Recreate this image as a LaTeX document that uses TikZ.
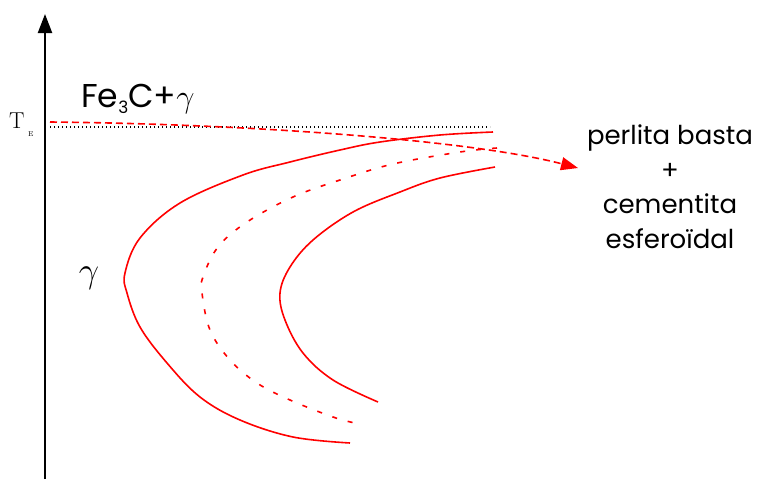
\documentclass[tikz,border=0pt]{standalone}
\usepackage{fontspec}
\setmainfont{Poppins}
\newfontfamily\lmr{Latin Modern Roman}
\usetikzlibrary{arrows.meta}
\begin{document}
\begin{tikzpicture}[x=1pt,y=-1pt,
  curve/.style={red,line width=1.6pt,line join=round},
  dashcurve/.style={red,line width=1.6pt,dash pattern=on 5pt off 11pt},
  lbl/.style={inner sep=0pt,align=center}]
\useasboundingbox (0,0) rectangle (758,480);
% axis
\coordinate (ax0) at (45,479);
\coordinate (ax1) at (45,14);
\draw[line width=2.2pt,-{Triangle[length=19pt,width=14pt]}] (ax0) -- (ax1);
% T_E
\node[inner sep=0pt,anchor=base west] (te) at (9,128) {\lmr\fontsize{23}{23}\selectfont T};
\node[inner sep=0pt,anchor=base west] (tesub) at (28,136) {\lmr\fontsize{7}{7}\selectfont E};
% dotted line
\coordinate (d0) at (50,127);
\coordinate (d1) at (490,127);
\draw[line width=1.4pt,dash pattern=on 1.4pt off 2.6pt] (d0) -- (d1);
% labels
\node[lbl,anchor=base west] (fe) at (81,107) {\fontsize{33}{33}\selectfont Fe\raisebox{-6pt}{\fontsize{17}{17}\selectfont 3}C+\scalebox{1.3}{\fontsize{24.88}{25}\selectfont$\gamma$}};
\node[lbl] (g) at (89,278) {\scalebox{1.45}{\fontsize{24.88}{25}\selectfont$\gamma$}};
\node[lbl,anchor=north,font=\fontsize{26}{34.5}\selectfont] (res) at (670,125) {perlita basta\\+\\cementita\\esferoïdal};
% curves
\draw[curve] plot[smooth,tension=0.6] coordinates {(493,132) (440,135) (380,142) (340,150) (290,162) (243,175) (180,203) (140,238) (125,273) (127,293) (140,327) (167,363) (200,397) (240,420) (293,437) (350,443)};
\draw[dashcurve] plot[smooth,tension=0.6] coordinates {(497,148) (460,152) (393,164) (340,180) (293,197) (247,222) (218,247) (203,277) (202,293) (210,330) (230,360) (257,383) (290,400) (333,417) (355,423)};
\draw[curve] plot[smooth,tension=0.6] coordinates {(495,167) (440,178) (400,192) (353,212) (313,240) (290,267) (280,293) (285,320) (303,353) (333,380) (378,402)};
% dashed arrow
\coordinate (a0) at (50,122);
\coordinate (a1) at (578,168);
\draw[red,line width=1.6pt,dash pattern=on 7pt off 4pt,-{Triangle[length=17pt,width=13pt]}] (a0) .. controls (250,124) and (470,140) .. (a1);
\end{tikzpicture}
\end{document}
